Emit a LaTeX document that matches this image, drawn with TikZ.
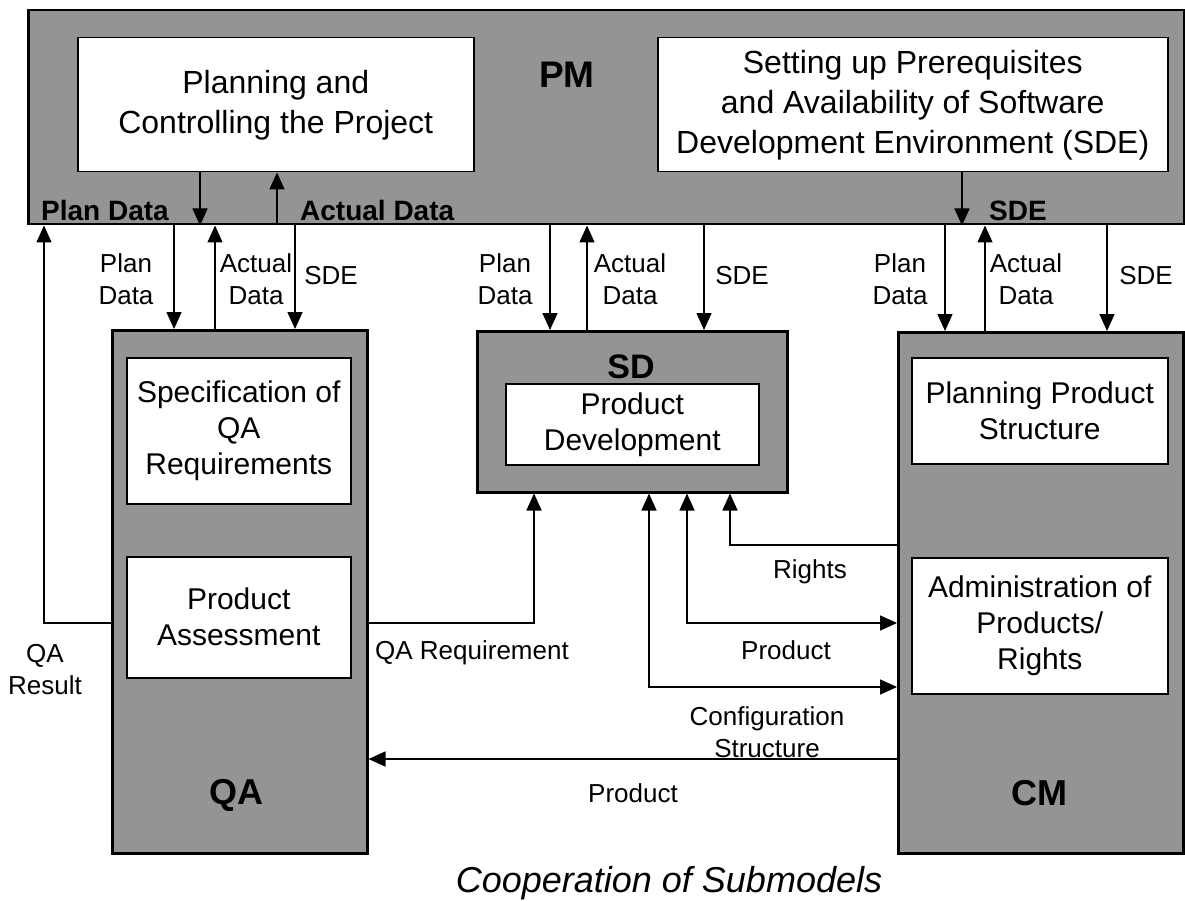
\documentclass[tikz,border=0pt]{standalone}
\usepackage{fontspec}
\setmainfont{Liberation Sans}
\usetikzlibrary{arrows.meta}
\begin{document}
\begin{tikzpicture}[x=1pt,y=-1pt,
  outer/.style={draw, line width=2.5pt, fill=black!42, anchor=north west, inner sep=0pt},
  inbox/.style={draw, line width=1.5pt, fill=white, anchor=north west, inner sep=0pt, align=center, font=\fontsize{30}{36}\selectfont},
  bigbox/.style={inbox, font=\fontsize{32}{40}\selectfont},
  conn/.style={line width=1.5pt, -{Triangle[length=17pt,width=15pt]}},
  bidir/.style={line width=1.5pt, {Triangle[length=17pt,width=15pt]}-{Triangle[length=17pt,width=15pt]}},
  lbl/.style={font=\fontsize{26}{32}\selectfont, align=center, inner sep=0pt},
  blbl/.style={font=\bfseries\fontsize{28}{32}\selectfont, inner sep=0pt, anchor=base west},
  title/.style={font=\bfseries\fontsize{36}{40}\selectfont, inner sep=0pt}
]
\useasboundingbox (0,0) rectangle (1185,901);

% PM
\node[outer, minimum width=1156pt, minimum height=214pt] (pm) at (27,9) {};
\node[bigbox, minimum width=396pt, minimum height=134pt] (plan) at (77,37) {Planning and\\Controlling the Project};
\node[bigbox, minimum width=510pt, minimum height=134pt] (sdebox) at (657,37) {Setting up Prerequisites\\and Availability of Software\\Development Environment (SDE)};
\node[title, font=\bfseries\fontsize{37}{40}\selectfont] (pmlbl) at (567,75) {PM};

% QA
\node[outer, minimum width=255pt, minimum height=523pt] (qa) at (111,329) {};
\node[inbox, minimum width=224pt, minimum height=146pt] (spec) at (126,357) {Specification of\\QA\\Requirements};
\node[inbox, minimum width=224pt, minimum height=121pt] (assess) at (126,556) {Product\\Assessment};
\node[title] (qalbl) at (236,795) {QA};

% SD
\node[outer, minimum width=310pt, minimum height=161pt] (sd) at (476,330) {};
\node[inbox, minimum width=253pt, minimum height=81pt] (dev) at (505,383) {Product\\Development};
\node[title, font=\bfseries\fontsize{34}{40}\selectfont] (sdlbl) at (631,367) {SD};

% CM
\node[outer, minimum width=285pt, minimum height=521pt] (cm) at (897,331) {};
\node[inbox, minimum width=256pt, minimum height=106pt] (pps) at (911,357) {Planning Product\\Structure};
\node[inbox, minimum width=256pt, minimum height=136pt] (admin) at (911,557) {Administration of\\Products/\\Rights};
\node[title] (cmlbl) at (1039,793) {CM};

% arrows inside PM
\draw[conn] (200,0 |- plan.south) -- (200,0 |- pm.south);
\draw[conn] (277,0 |- pm.south) -- (277,0 |- plan.south);
\draw[conn] (962,0 |- sdebox.south) -- (962,0 |- pm.south);
\node[blbl] (pdl) at (41,221) {Plan Data};
\node[blbl] (adl) at (300,221) {Actual Data};
\node[blbl] (sdel) at (989,221) {SDE};

% QA group
\draw[conn] (174,0 |- pm.south) -- (174,0 |- qa.north);
\draw[conn] (215,0 |- qa.north) -- (215,0 |- pm.south);
\draw[conn] (295,0 |- pm.south) -- (295,0 |- qa.north);
\node[lbl] (l1) at (126,279) {Plan\\Data};
\node[lbl] (l2) at (256,279) {Actual\\Data};
\node[lbl] (l3) at (331,276) {SDE};

% SD group
\draw[conn] (550,0 |- pm.south) -- (550,0 |- sd.north);
\draw[conn] (587,0 |- sd.north) -- (587,0 |- pm.south);
\draw[conn] (704,0 |- pm.south) -- (704,0 |- sd.north);
\node[lbl] (l4) at (505,279) {Plan\\Data};
\node[lbl] (l5) at (630,279) {Actual\\Data};
\node[lbl] (l6) at (742,276) {SDE};

% CM group
\draw[conn] (945,0 |- pm.south) -- (945,0 |- cm.north);
\draw[conn] (985,0 |- cm.north) -- (985,0 |- pm.south);
\draw[conn] (1107,0 |- pm.south) -- (1107,0 |- cm.north);
\node[lbl] (l7) at (900,279) {Plan\\Data};
\node[lbl] (l8) at (1026,279) {Actual\\Data};
\node[lbl] (l9) at (1146,276) {SDE};

% QA result
\draw[conn] (qa.west |- 0,623) -- (44,623) -- (44,0 |- pm.south);
\node[lbl] (qares) at (45,670) {QA\\Result};

% QA requirement
\draw[conn] (qa.east |- 0,623) -- (534,623) -- (534,0 |- sd.south);
\node[lbl] (qareq) at (472,653) {QA Requirement};

% Rights
\draw[conn] (cm.west |- 0,545) -- (730,545) -- (730,0 |- sd.south);
\node[lbl] (rights) at (810,572) {Rights};

% Product (SD <-> CM)
\draw[bidir] (687,0 |- sd.south) -- (687,623) -- (cm.west |- 0,623);
\node[lbl] (prod1) at (786,650) {Product};

% Configuration structure
\draw[bidir] (649,0 |- sd.south) -- (649,687) -- (cm.west |- 0,687);
\node[lbl] (conf) at (767,732) {Configuration\\Structure};

% Product CM -> QA
\draw[conn] (cm.west |- 0,759) -- (qa.east |- 0,759);
\node[lbl] (prod2) at (633,793) {Product};

% caption
\node[font=\itshape\fontsize{36}{40}\selectfont, inner sep=0pt] (cap) at (669,883) {Cooperation of Submodels};
\end{tikzpicture}
\end{document}
